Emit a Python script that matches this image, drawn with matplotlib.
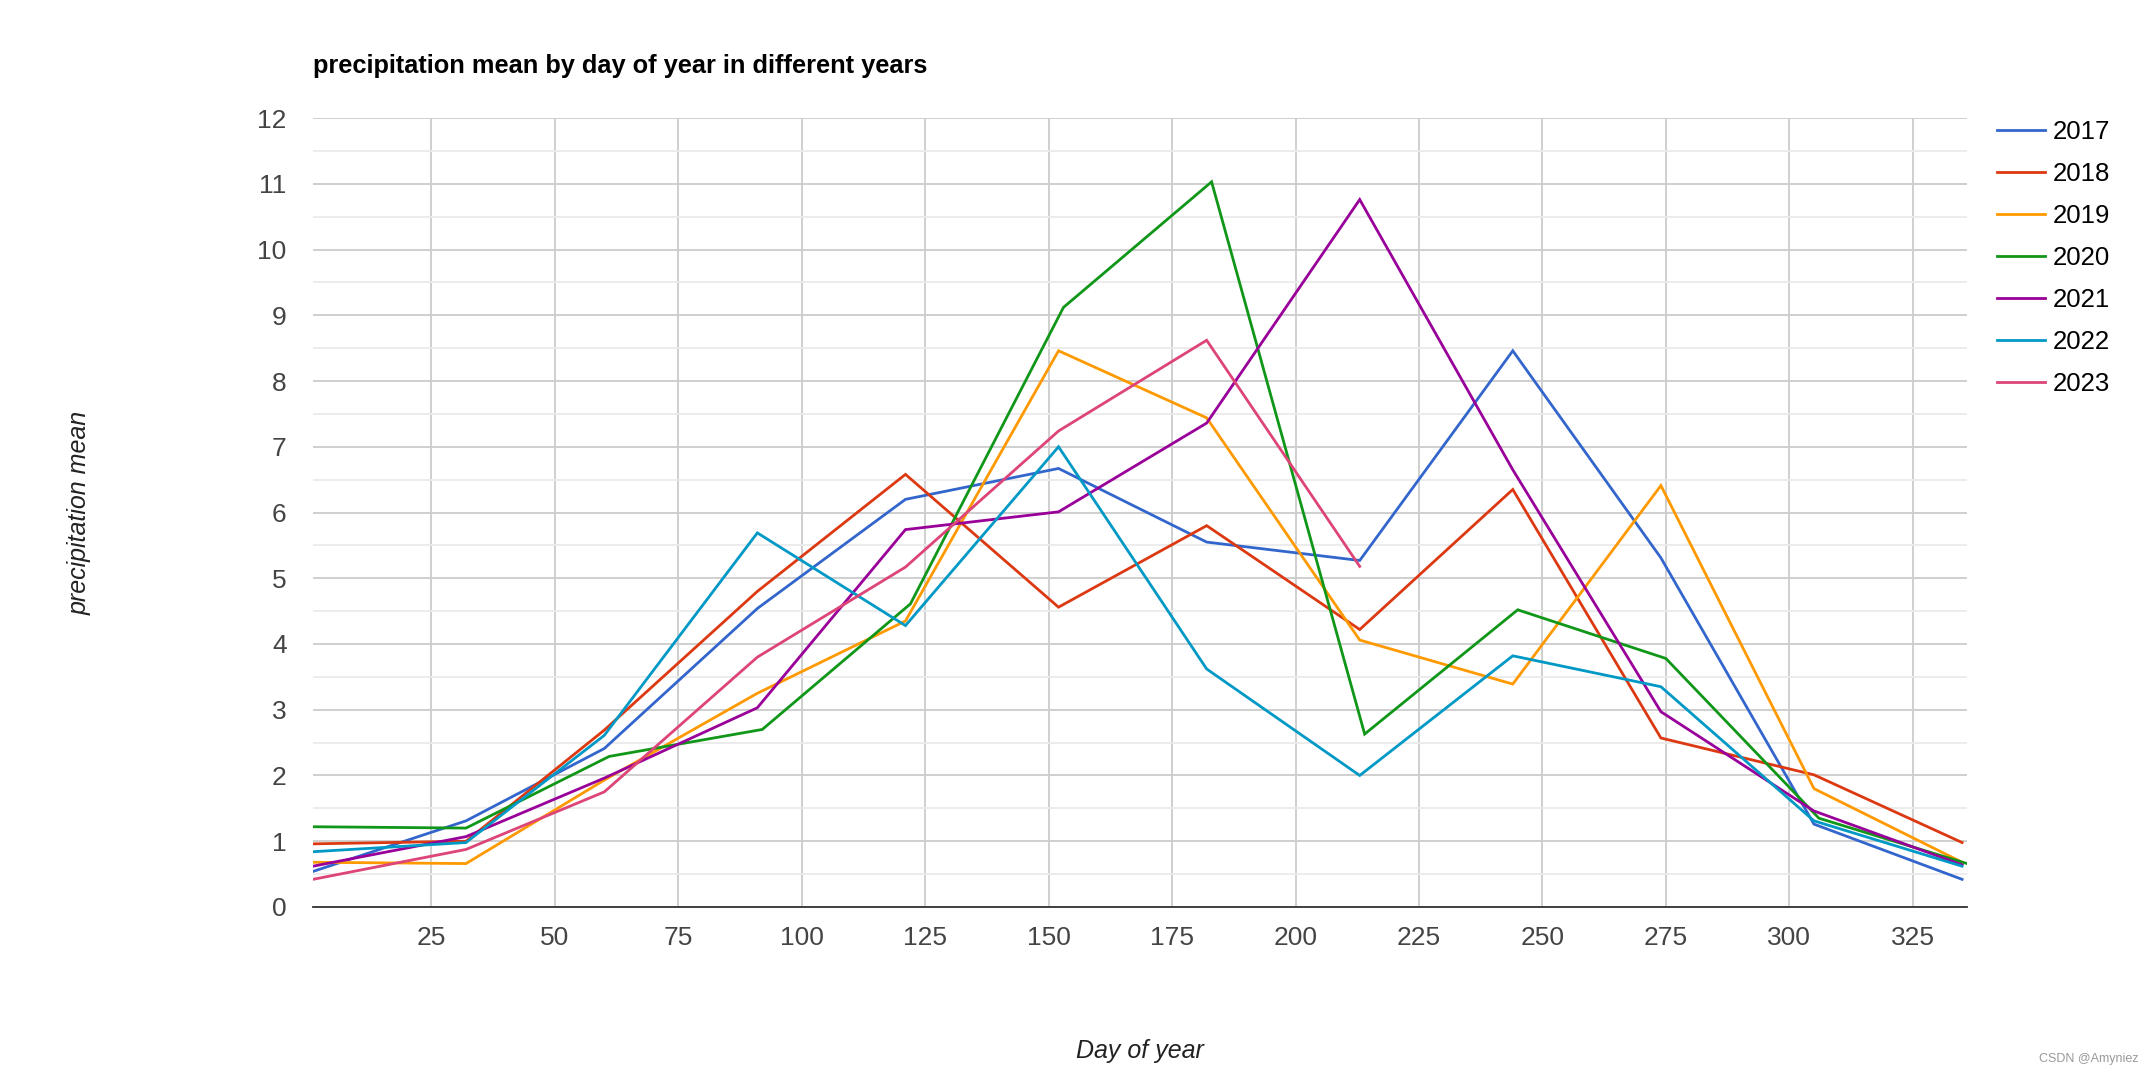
import matplotlib.pyplot as plt
import numpy as np

plt.rcParams['font.family'] = ['Liberation Sans', 'DejaVu Sans']

# first day of each month (2020 is a leap year)
days = [1, 32, 60, 91, 121, 152, 182, 213, 244, 274, 305, 335]
days_leap = [1, 32, 61, 92, 122, 153, 183, 214, 245, 275, 306, 336]

years = ["2017", "2018", "2019", "2020", "2021", "2022", "2023"]
p2017 = [0.54, 1.31, 2.41, 4.54, 6.20, 6.67, 5.55, 5.27, 8.46, 5.31, 1.26, 0.42]
p2018 = [0.96, 1.00, 2.69, 4.80, 6.58, 4.56, 5.80, 4.22, 6.35, 2.57, 2.01, 0.98]
p2019 = [0.68, 0.66, 1.93, 3.25, 4.35, 8.46, 7.44, 4.06, 3.39, 6.41, 1.80, 0.68]
p2020 = [1.22, 1.20, 2.29, 2.70, 4.61, 9.12, 11.03, 2.63, 4.52, 3.78, 1.35, 0.66]
p2021 = [0.62, 1.07, 1.96, 3.03, 5.74, 6.01, 7.36, 10.76, 6.65, 2.97, 1.46, 0.64]
p2022 = [0.84, 0.98, 2.61, 5.69, 4.28, 7.00, 3.62, 2.00, 3.82, 3.35, 1.31, 0.62]
p2023 = [0.42, 0.875, 1.75, 3.80, 5.17, 7.24, 8.62, 5.18]

series = [p2017, p2018, p2019, p2020, p2021, p2022, p2023]
colors = ["#3366cc", "#dc3912", "#ff9900", "#109618", "#990099", "#0099c6", "#dd4477"]

fig = plt.figure(figsize=(21.54, 10.81), dpi=100)
ax = fig.add_axes([0.1453, 0.161, 0.9132 - 0.1453, 0.8908 - 0.161])

for year, vals, col in zip(years, series, colors):
    xs = days_leap if year == "2020" else days
    ax.plot(xs[:len(vals)], vals, color=col, lw=2.0, label=year,
            solid_joinstyle="miter")

ax.set_xlim(1, 336)
ax.set_ylim(0, 12)
ax.set_xticks(np.arange(25, 326, 25))
ax.set_yticks(np.arange(0, 13, 1))
ax.set_yticks(np.arange(0.5, 12, 1), minor=True)
ax.grid(which="major", color="#cccccc", lw=1.3)
ax.grid(which="minor", axis="y", color="#ebebeb", lw=1.3)
ax.set_axisbelow(True)
for s in ["top", "right", "left"]:
    ax.spines[s].set_visible(False)
ax.spines["bottom"].set_color("#333333")
ax.spines["bottom"].set_linewidth(1.3)
ax.tick_params(which="both", length=0)
ax.tick_params(axis="y", pad=19, labelsize=19, labelcolor="#444444")
ax.tick_params(axis="x", pad=14, labelsize=19, labelcolor="#444444")

ax.set_xlabel("Day of year", fontsize=18, style="italic", color="#222222",
              labelpad=64)
ax.set_ylabel("precipitation mean", fontsize=18, style="italic", color="#222222",
              labelpad=119)

fig.text(0.1453, 0.939, "precipitation mean by day of year in different years",
         fontsize=18.3, fontweight="bold", color="black", va="center")

ax.legend(loc="upper left", bbox_to_anchor=(0.998, 1.04), frameon=False,
          fontsize=18.5, handlelength=1.85, handletextpad=0.3, labelspacing=0.7,
          borderaxespad=0.9)

fig.text(0.993, 0.015, "CSDN @Amyniez", fontsize=9, color="#999999",
         ha="right", va="bottom")

fig.savefig("out.png", dpi=100)
